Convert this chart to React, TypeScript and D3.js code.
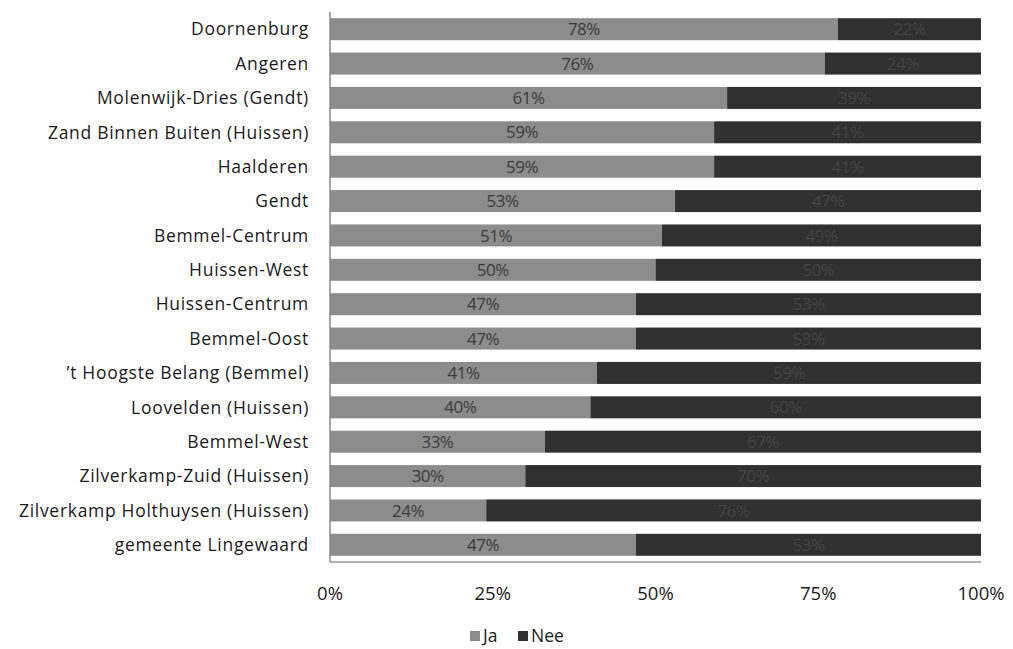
import React from "react";
import * as d3 from "d3";

const categories = [
  "Doornenburg",
  "Angeren",
  "Molenwijk-Dries (Gendt)",
  "Zand Binnen Buiten (Huissen)",
  "Haalderen",
  "Gendt",
  "Bemmel-Centrum",
  "Huissen-West",
  "Huissen-Centrum",
  "Bemmel-Oost",
  "\u2019t Hoogste Belang (Bemmel)",
  "Loovelden (Huissen)",
  "Bemmel-West",
  "Zilverkamp-Zuid (Huissen)",
  "Zilverkamp Holthuysen (Huissen)",
  "gemeente Lingewaard",
];
const jaValues = [78, 76, 61, 59, 59, 53, 51, 50, 47, 47, 41, 40, 33, 30, 24, 47];
const neeValues = [22, 24, 39, 41, 41, 47, 49, 50, 53, 53, 59, 60, 67, 70, 76, 53];
const tickValues = [0, 25, 50, 75, 100];
const seriesNames = ["Ja", "Nee"];

const W = 1013;
const H = 649;
const left = 330;
const right = 981;
const top = 12;
const bottom = 562;
const font = "'Open Sans', sans-serif";
const colors = ["#8c8c8c", "#303030"];
const labelColors = ["#3a3a3a", "#454545"];

export default function App() {
  const x = d3.scaleLinear().domain([0, 100]).range([left, right]);
  const y = d3.scaleBand<string>().domain(categories).range([top, bottom]).paddingInner(0.36).paddingOuter(0.18);
  const bh = y.bandwidth();
  const series = [jaValues, neeValues];
  return (
    <svg width={W} height={H} style={{ position: "absolute", left: 0, top: 0, background: "#fff" }}>
      {categories.map((c, i) => {
        let acc = 0;
        return (
          <g key={c}>
            {series.map((vals, s) => {
              const x0 = acc;
              acc += vals[i];
              return (
                <g key={s}>
                  <rect x={x(x0)} y={y(c)!} width={x(acc) - x(x0)} height={bh} fill={colors[s]} />
                  <text
                    x={(x(x0) + x(acc)) / 2}
                    y={y(c)! + bh / 2}
                    dy="0.36em"
                    textAnchor="middle"
                    fontFamily={font}
                    fontSize={17}
                    letterSpacing={-0.5}
                    fill={labelColors[s]}
                  >
                    {vals[i]}%
                  </text>
                </g>
              );
            })}
            <text
              x={left - 21}
              y={y(c)! + bh / 2}
              dy="0.36em"
              textAnchor="end"
              fontFamily={font}
              fontSize={17.5}
              letterSpacing={0.7}
              fill="#1a1a1a"
            >
              {c}
            </text>
          </g>
        );
      })}
      <line x1={left} x2={left} y1={top} y2={bottom} stroke="#888" strokeWidth={1.5} />
      <line x1={left} x2={right} y1={bottom} y2={bottom} stroke="#999" strokeWidth={1.5} />
      {tickValues.map((t) => (
        <text key={t} x={x(t)} y={593} dy="0.36em" textAnchor="middle" fontFamily={font} fontSize={18.5} fill="#1a1a1a">
          {t}%
        </text>
      ))}
      <g transform="translate(470,636)">
        {seriesNames.map((n, i) => {
          const ox = i === 0 ? 0 : 48;
          return (
            <g key={n} transform={`translate(${ox},0)`}>
              <rect x={0} y={-5} width={10} height={10} fill={colors[i]} />
              <text x={13} y={0} dy="0.36em" fontFamily={font} fontSize={17.5} fill="#1a1a1a">
                {n}
              </text>
            </g>
          );
        })}
      </g>
    </svg>
  );
}
